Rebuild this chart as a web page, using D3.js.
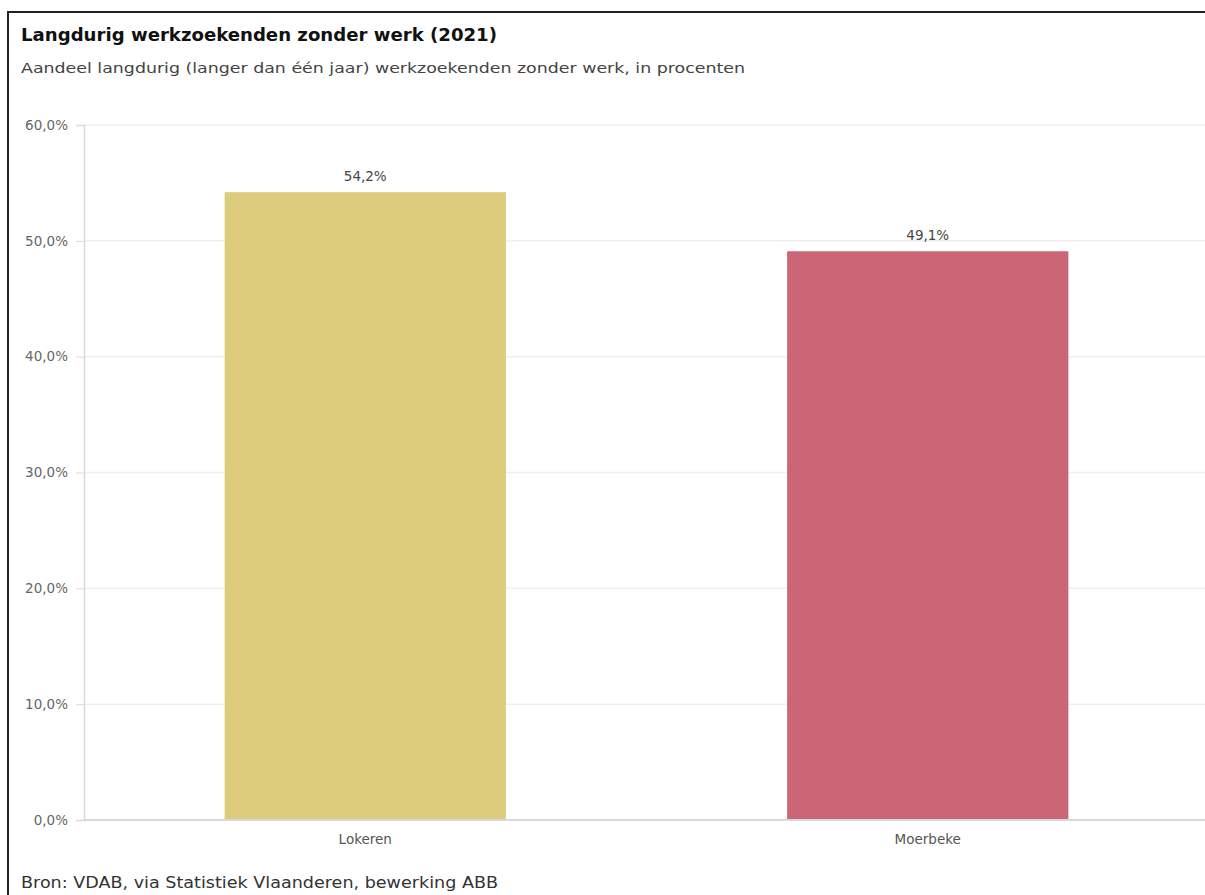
<!DOCTYPE html>
<html><head><meta charset="utf-8">
<script src="https://cdn.jsdelivr.net/npm/d3@7"></script>
<style>
html,body{margin:0;padding:0;background:#fff;}
svg{display:block;font-family:"DejaVu Sans","Noto Sans",sans-serif;}
</style></head>
<body>
<svg id="chart" width="1205" height="895"></svg>
<script>
const categories = ["Lokeren", "Moerbeke"];
const values = [54.2, 49.1];
const colors = ["#dccb7a", "#cb6676"];
const yTicks = [0, 10, 20, 30, 40, 50, 60];
const title = "Langdurig werkzoekenden zonder werk (2021)";
const subtitle = "Aandeel langdurig (langer dan één jaar) werkzoekenden zonder werk, in procenten";
const source = "Bron: VDAB, via Statistiek Vlaanderen, bewerking ABB";

(function () {
const svg = d3.select("#chart");
const fmt = v => d3.format(".1f")(v).replace(".", ",") + "%";
const FONT = "DejaVu Sans, Noto Sans, sans-serif";

// frame
svg.append("path").attr("d", "M8,895 V12 H1205").attr("fill", "none").attr("stroke", "#222").attr("stroke-width", 2);

svg.append("text").attr("x", 21).attr("y", 41).attr("font-size", 17).attr("font-weight", 700).attr("fill", "#111")
  .attr("textLength", 476).attr("lengthAdjust", "spacingAndGlyphs").text(title);
svg.append("text").attr("x", 21).attr("y", 73).attr("font-size", 14.5).attr("fill", "#444")
  .attr("textLength", 724).attr("lengthAdjust", "spacingAndGlyphs").text(subtitle);
svg.append("text").attr("x", 21).attr("y", 888).attr("font-size", 15).attr("fill", "#333")
  .attr("textLength", 477).attr("lengthAdjust", "spacingAndGlyphs").text(source);

const mLeft = 84, mRight = 1205, mTop = 125, mBottom = 820;
const x = d3.scaleBand().domain(categories).range([mLeft, 1209]).paddingInner(0.5).paddingOuter(0.25);
const y = d3.scaleLinear().domain([0, 60]).range([mBottom, mTop]);

// grid
svg.append("g").selectAll("line").data(yTicks.filter(d => d > 0)).join("line")
  .attr("x1", mLeft).attr("x2", mRight).attr("y1", d => y(d)).attr("y2", d => y(d))
  .attr("stroke", "#efefef").attr("stroke-width", 1.5);

// y axis
const yAxis = svg.append("g").attr("transform", `translate(${mLeft},0)`)
  .call(d3.axisLeft(y).tickValues(yTicks).tickFormat(fmt).tickSize(8).tickPadding(8));
yAxis.select(".domain").attr("stroke", "#d9d9d9").attr("stroke-width", 1.5);
yAxis.selectAll(".tick line").attr("stroke", "#d9d9d9");
yAxis.selectAll(".tick text").attr("font-size", 13.5).attr("fill", "#666").attr("font-family", FONT);

// bars
svg.append("g").selectAll("rect").data(values).join("rect")
  .attr("x", (d, i) => x(categories[i])).attr("width", x.bandwidth())
  .attr("y", d => y(d)).attr("height", d => mBottom - y(d))
  .attr("fill", (d, i) => colors[i]);

// value labels
svg.append("g").selectAll("text").data(values).join("text")
  .attr("x", (d, i) => x(categories[i]) + x.bandwidth() / 2).attr("y", d => y(d) - 11)
  .attr("text-anchor", "middle").attr("font-size", 13.5).attr("fill", "#444").text(fmt);

// x axis
const xAxis = svg.append("g").attr("transform", `translate(0,${mBottom})`)
  .call(d3.axisBottom(x).tickSize(0).tickPadding(14));
xAxis.select(".domain").attr("stroke", "#d9d9d9").attr("stroke-width", 2).attr("d", `M${mLeft},0H${mRight}`);
xAxis.selectAll(".tick text").attr("font-size", 13.5).attr("fill", "#555").attr("font-family", FONT);
})();
</script>
</body></html>
